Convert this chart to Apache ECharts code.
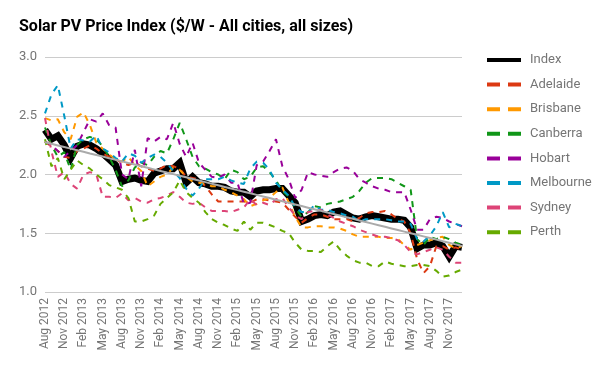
<!DOCTYPE html>
<html><head><meta charset="utf-8">
<script src="https://cdn.jsdelivr.net/npm/echarts@6/dist/echarts.min.js"></script>
<style>html,body{margin:0;padding:0;background:#fff}#c{width:600px;height:371px}</style>
</head><body><div id="c"></div>
<script>
const monthNames = ['Jan','Feb','Mar','Apr','May','Jun','Jul','Aug','Sep','Oct','Nov','Dec'];
const categories = [];
for (let k = 0; k < 66; k++) { const m = (7 + k) % 12; const y = 2012 + Math.floor((7 + k) / 12); categories.push(monthNames[m] + ' ' + y); }

const index = [2.38,2.30,2.33,2.25,2.14,2.24,2.26,2.25,2.22,2.18,2.13,2.08,1.94,1.96,1.97,1.95,1.94,2.01,2.03,2.05,2.05,2.10,1.93,1.98,1.93,1.92,1.90,1.90,1.89,1.86,1.85,1.85,1.81,1.86,1.87,1.87,1.88,1.88,1.82,1.76,1.60,1.62,1.65,1.66,1.65,1.68,1.69,1.66,1.63,1.62,1.64,1.65,1.64,1.63,1.62,1.62,1.61,1.55,1.37,1.40,1.40,1.42,1.39,1.30,1.39,1.38];
const adelaide = [2.28,2.24,2.20,2.15,2.14,2.20,2.22,2.25,2.22,2.18,2.15,2.13,2.10,2.08,2.10,2.07,2.05,2.03,2.05,2.08,2.07,2.05,1.98,1.97,1.96,1.90,1.83,1.77,1.77,1.77,1.77,1.77,1.76,1.79,1.79,1.78,1.77,1.76,1.70,1.64,1.59,1.63,1.66,1.66,1.64,1.62,1.62,1.62,1.60,1.63,1.67,1.68,1.68,1.69,1.66,1.62,1.60,1.50,1.28,1.16,1.22,1.39,1.39,1.36,1.38,1.36];
const brisbane = [2.48,2.46,2.47,2.36,2.30,2.49,2.53,2.42,2.27,2.22,2.17,2.13,2.11,2.15,2.08,2.03,1.90,1.94,1.98,2.00,2.06,2.04,1.98,1.94,1.93,1.92,1.90,1.90,1.87,1.85,1.82,1.79,1.73,1.75,1.78,1.80,1.85,1.89,1.76,1.64,1.55,1.55,1.56,1.56,1.55,1.55,1.54,1.52,1.49,1.47,1.47,1.47,1.47,1.46,1.46,1.45,1.40,1.36,1.40,1.42,1.44,1.46,1.47,1.40,1.37,1.39];
const canberra = [2.40,2.25,2.15,2.19,2.04,2.25,2.30,2.32,2.30,2.24,2.15,2.04,1.90,1.95,2.06,2.10,2.08,2.15,2.20,2.18,2.30,2.44,2.30,2.15,2.07,2.05,2.02,2.00,1.96,2.04,2.02,1.96,1.98,2.06,2.07,2.02,1.95,1.86,1.81,1.72,1.64,1.68,1.73,1.72,1.75,1.76,1.77,1.79,1.81,1.86,1.93,1.97,1.97,1.97,1.96,1.93,1.90,1.87,1.45,1.40,1.47,1.45,1.47,1.45,1.42,1.40];
const hobart = [2.28,2.25,2.20,2.15,2.20,2.25,2.36,2.47,2.45,2.52,2.42,2.40,2.00,1.96,2.21,1.90,2.31,2.28,2.32,2.30,2.44,2.26,2.15,2.27,2.10,2.04,1.98,1.97,2.00,1.93,1.93,1.75,1.76,2.08,2.11,2.20,2.30,2.07,1.96,1.80,1.87,2.02,2.00,1.99,1.98,2.02,2.05,2.06,2.03,1.96,1.93,1.90,1.88,1.87,1.85,1.85,1.85,1.70,1.53,1.53,1.62,1.64,1.63,1.60,1.58,1.56];
const melbourne = [2.52,2.68,2.76,2.50,2.22,2.30,2.29,2.28,2.33,2.22,2.19,2.14,2.11,2.18,2.16,2.10,2.14,2.17,2.15,2.10,2.03,1.97,1.88,1.82,1.88,1.96,1.96,1.96,1.98,1.95,1.93,1.92,2.05,2.11,2.10,2.04,1.93,1.87,1.82,1.72,1.68,1.68,1.74,1.70,1.70,1.68,1.67,1.65,1.64,1.60,1.62,1.62,1.62,1.62,1.61,1.60,1.60,1.58,1.45,1.43,1.48,1.56,1.68,1.55,1.58,1.56];
const sydney = [2.48,2.20,1.98,2.02,1.92,1.88,2.00,2.02,2.00,1.81,1.81,1.80,1.84,1.78,1.80,1.77,1.76,1.79,1.80,1.82,1.85,1.81,1.76,1.75,1.76,1.72,1.69,1.69,1.69,1.68,1.70,1.72,1.79,1.74,1.76,1.74,1.79,1.80,1.72,1.65,1.62,1.68,1.69,1.70,1.66,1.63,1.60,1.58,1.56,1.53,1.51,1.49,1.47,1.47,1.46,1.44,1.40,1.34,1.32,1.34,1.36,1.38,1.36,1.30,1.25,1.25];
const perth = [2.30,2.07,2.14,1.96,2.04,2.12,2.08,2.05,2.00,1.96,1.91,1.89,1.87,1.80,1.60,1.60,1.62,1.65,1.75,1.80,1.85,1.95,1.85,1.80,1.76,1.68,1.62,1.59,1.57,1.54,1.52,1.60,1.53,1.59,1.59,1.57,1.55,1.52,1.50,1.42,1.36,1.35,1.35,1.34,1.39,1.43,1.36,1.31,1.27,1.25,1.25,1.22,1.22,1.26,1.24,1.23,1.22,1.22,1.23,1.23,1.22,1.18,1.13,1.14,1.17,1.19];
const yTicks = [1.0, 1.5, 2.0, 2.5, 3.0];

// linear trend of the Index series
const n = index.length;
let sx=0, sy=0, sxy=0, sxx=0;
for (let i=0;i<n;i++){ sx+=i; sy+=index[i]; sxy+=i*index[i]; sxx+=i*i; }
const slope = (n*sxy - sx*sy)/(n*sxx - sx*sx);
const icpt = (sy - slope*sx)/n;
const trend = index.map((_, i) => +(icpt + slope*i).toFixed(4));

const cities = [
  ['Adelaide', adelaide, '#dc3912'],
  ['Brisbane', brisbane, '#ff9900'],
  ['Canberra', canberra, '#109618'],
  ['Hobart', hobart, '#990099'],
  ['Melbourne', melbourne, '#0099c6'],
  ['Sydney', sydney, '#dd4477'],
  ['Perth', perth, '#66aa00']
];
const dashIcon = 'path://M0,0 H13 V4 H0 Z M21,0 H34 V4 H21 Z';
const series = [{
  name: 'Index', type: 'line', data: index, showSymbol: false, color: '#000',
  lineStyle: { width: 7, color: '#000', join: 'miter' }, z: 2, animation: false
}];
cities.forEach(([name, data, color]) => series.push({
  name, type: 'line', data, showSymbol: false, color,
  lineStyle: { width: 2, color, type: [6, 6] }, z: 3, animation: false
}));
series.push({ name: 'trend', type: 'line', data: trend, showSymbol: false, color: '#aaa',
  lineStyle: { width: 2, color: '#aaaaaa' }, z: 4, animation: false, silent: true });

const chart = echarts.init(document.getElementById('c'), null, { renderer: 'canvas' });
chart.setOption({
  animation: false,
  title: { text: 'Solar PV Price Index ($/W - All cities, all sizes)', left: 14, top: 14,
    textStyle: { fontFamily: 'Roboto', fontWeight: 'bold', fontSize: 16, color: '#000' } },
  legend: {
    orient: 'vertical', left: 482, top: 48, itemGap: 10.6, itemWidth: 34, itemHeight: 4,
    textStyle: { fontFamily: 'Roboto', fontSize: 13, lineHeight: 14, color: '#757575', padding: [0,0,0,4] },
    data: [{ name: 'Index', icon: 'rect' }].concat(cities.map(c => ({ name: c[0], icon: dashIcon })))
  },
  grid: { left: 45, right: 138, top: 57, bottom: 79, containLabel: false },
  xAxis: {
    type: 'category', data: categories, boundaryGap: false,
    axisLine: { show: false }, axisTick: { show: false },
    axisLabel: { rotate: 90, interval: 2, color: '#757575', fontFamily: 'Roboto', fontSize: 12, margin: 6 },
    splitLine: { show: false }
  },
  yAxis: {
    type: 'value', min: 1, max: 3, interval: 0.5,
    axisLine: { show: false }, axisTick: { show: false },
    axisLabel: { color: '#757575', fontFamily: 'Roboto', fontSize: 13, margin: 8, formatter: v => v.toFixed(1) },
    splitLine: { lineStyle: { color: '#cccccc', width: 1 } }
  },
  series
});
</script></body></html>
